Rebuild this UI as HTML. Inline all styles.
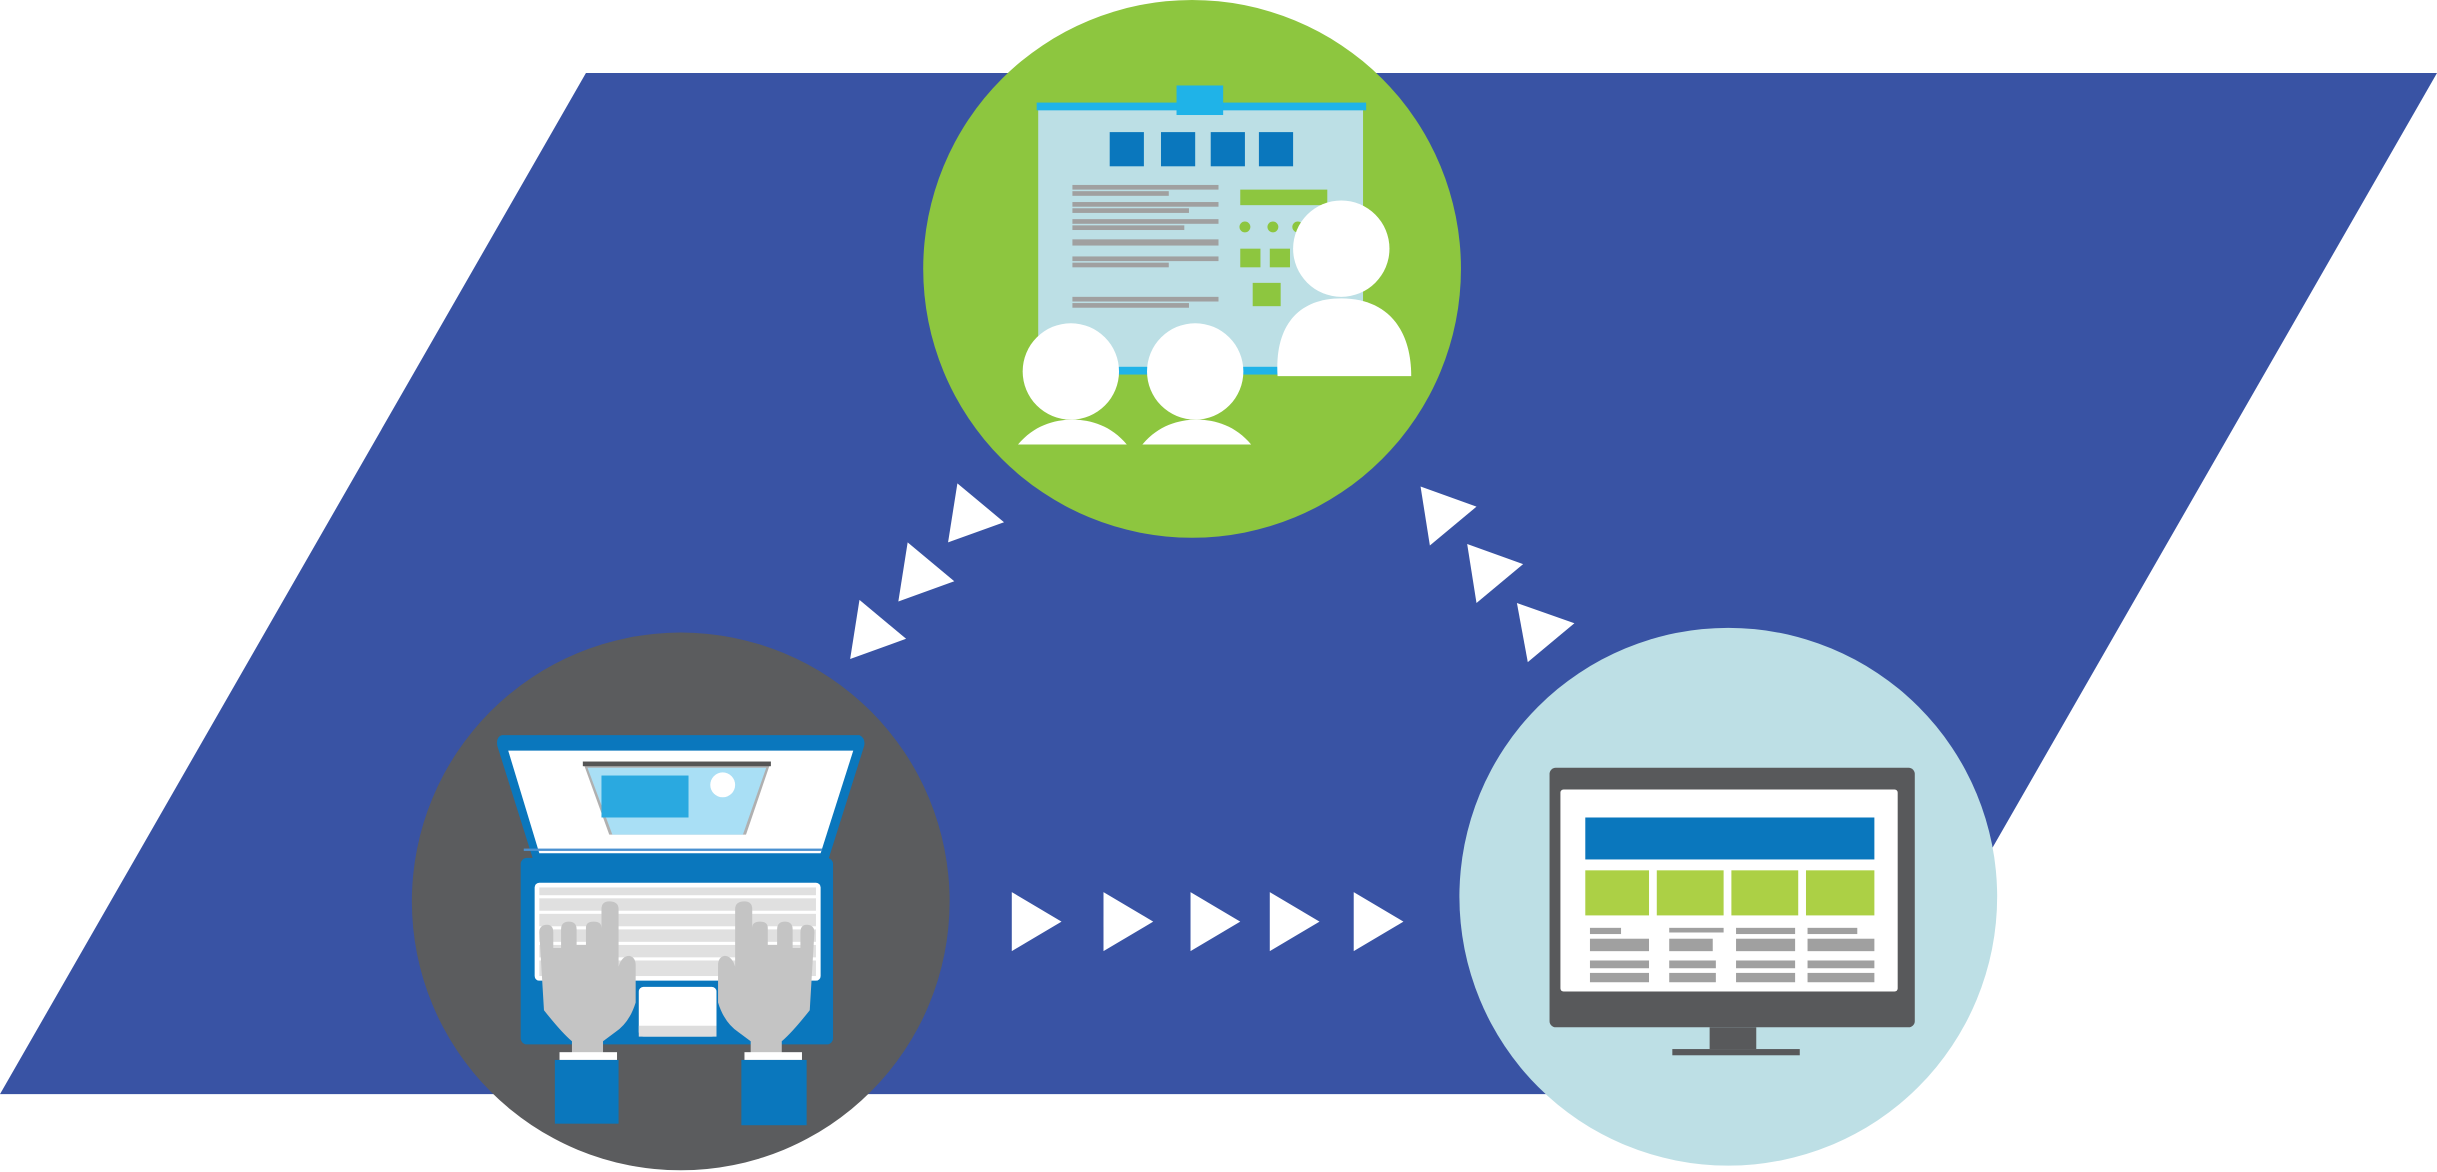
<!DOCTYPE html>
<html><head><meta charset="utf-8"><style>html,body{margin:0;padding:0;background:#fff}svg{display:block}</style></head>
<body>
<svg width="2437" height="1172" viewBox="0 0 1568 754.1" preserveAspectRatio="none" xmlns="http://www.w3.org/2000/svg">
<polygon points="377,47 1568,47 1191,704 0,704" fill="#3953a4"/>
<g fill="#fff">
<polygon points="616,311 646,336 610,349"/>
<polygon points="584,349 614,374 578,387"/>
<polygon points="553,386 583,411 547,424"/>
<polygon points="914,313 950,326 920,351"/>
<polygon points="944,350 980,363 950,388"/>
<polygon points="976,388 1013,401 983,426"/>
<polygon points="651,574 683,593 651,612"/>
<polygon points="710,574 742,593 710,612"/>
<polygon points="766,574 798,593 766,612"/>
<polygon points="817,574 849,593 817,612"/>
<polygon points="871,574 903,593 871,612"/>
</g>
<circle cx="767" cy="173" r="173" fill="#8dc63f"/>
<rect x="668" y="68" width="209" height="172" fill="#bcdfe5"/>
<rect x="667" y="66" width="212" height="5" fill="#1fb3e8"/>
<rect x="757" y="55" width="30" height="19" fill="#1fb3e8"/>
<rect x="667" y="236" width="212" height="5" fill="#1fb3e8"/>
<g fill="#0a77bd"><rect x="714" y="85" width="22" height="22"/><rect x="747" y="85" width="22" height="22"/><rect x="779" y="85" width="22" height="22"/><rect x="810" y="85" width="22" height="22"/></g>
<g fill="#a0a0a0">
<rect x="690" y="119" width="94" height="3"/><rect x="690" y="123" width="62" height="3"/>
<rect x="690" y="130" width="94" height="3"/><rect x="690" y="134" width="75" height="3"/>
<rect x="690" y="141" width="94" height="3"/><rect x="690" y="145" width="72" height="3"/>
<rect x="690" y="154" width="94" height="4"/>
<rect x="690" y="165" width="94" height="3"/><rect x="690" y="169" width="62" height="3"/>
<rect x="690" y="191" width="94" height="3"/><rect x="690" y="195" width="75" height="3"/>
</g>
<g fill="#8dc63f"><rect x="798" y="122" width="56" height="10"/>
<circle cx="801" cy="146" r="3.5"/><circle cx="819" cy="146" r="3.5"/><circle cx="835" cy="146" r="3.5"/>
<rect x="798" y="160" width="13" height="12"/><rect x="817" y="160" width="13" height="12"/><rect x="806" y="182" width="18" height="15"/></g>
<g fill="#fff">
<circle cx="863" cy="160" r="31"/>
<path d="M822,242 C820,210 835,192 863,192 C891,192 908,210 908,242 Z"/>
<circle cx="689" cy="239" r="31"/>
<path d="M655,286 C665,274 678,270 690,270 C702,270 715,274 725,286 Z"/>
<circle cx="769" cy="239" r="31"/>
<path d="M735,286 C745,274 758,270 770,270 C782,270 795,274 805,286 Z"/>
</g>
<circle cx="438" cy="580" r="173" fill="#5b5c5e"/>
<path d="M323,473 L553,473 Q557,475 556,480 L533,553 L343,553 L320,480 Q319,474 323,473 Z" fill="#0a77bd"/>
<polygon points="327,483 549,483 528,549 347,549" fill="#fff"/>
<rect x="337" y="546" width="192" height="1.5" fill="#4a90d0"/>
<polygon points="375,490 496,490 480,537 392,537" fill="#b0b0b0"/>
<polygon points="378,494 493,494 478,537 394,537" fill="#a9dff5"/>
<rect x="375" y="490" width="121" height="3" fill="#555"/>
<rect x="387" y="499" width="56" height="27" fill="#2aa9e0"/>
<circle cx="465" cy="505" r="8" fill="#fff"/>
<rect x="335" y="552" width="201" height="120" rx="4" fill="#0a77bd"/>
<rect x="344" y="568" width="184" height="63" rx="3" fill="#fff"/>
<g fill="#e0e0e0">
<rect x="347" y="571" width="178" height="5"/><rect x="347" y="578" width="178" height="8"/>
<rect x="347" y="588" width="178" height="8"/><rect x="347" y="598" width="178" height="8"/>
<rect x="347" y="608" width="178" height="8"/><rect x="347" y="618" width="178" height="10"/>
</g>
<rect x="411" y="635" width="50" height="32" rx="3" fill="#fff"/>
<rect x="411" y="660" width="50" height="7" fill="#ddd"/>
<g fill="#c4c4c4">
<path d="M347,600 Q347,595 352,595 Q356,595 356,600 L356,610 L361,610 L361,598 Q361,593 366,593 Q371,593 371,598 L371,608 L377,608 L377,597 Q377,593 382,593 Q387,593 387,597 L387,585 Q387,580 392,580 Q398,580 398,585 L398,622 Q400,615 405,615 Q409,616 409,621 L409,645 Q405,658 396,664 L388,670 L388,678 L368,678 L368,670 Q361,664 350,650 Z"/>
<path d="M524,600 Q524,595 519,595 Q515,595 515,600 L515,610 L510,610 L510,598 Q510,593 505,593 Q500,593 500,598 L500,608 L494,608 L494,597 Q494,593 489,593 Q484,593 484,597 L484,585 Q484,580 479,580 Q473,580 473,585 L473,622 Q471,615 466,615 Q462,616 462,621 L462,645 Q466,658 475,664 L483,670 L483,678 L503,678 L503,670 Q510,664 521,650 Z"/>
</g>
<rect x="360" y="677" width="37" height="5" fill="#fff"/>
<rect x="357" y="682" width="41" height="41" fill="#0a77bd"/>
<rect x="479" y="677" width="37" height="5" fill="#fff"/>
<rect x="477" y="682" width="42" height="42" fill="#0a77bd"/>
<circle cx="1112" cy="577" r="173" fill="#bddfe5"/>
<rect x="997" y="494" width="235" height="167" rx="4" fill="#58595b"/>
<rect x="1004" y="508" width="217" height="130" rx="2" fill="#fff"/>
<rect x="1020" y="526" width="186" height="27" fill="#0a77bd"/>
<g fill="#acd045"><rect x="1020" y="560" width="41" height="29"/><rect x="1066" y="560" width="43" height="29"/><rect x="1114" y="560" width="43" height="29"/><rect x="1162" y="560" width="44" height="29"/></g>
<g fill="#a0a0a0">
<rect x="1023" y="597" width="20" height="4"/><rect x="1074" y="597" width="35" height="3"/><rect x="1117" y="597" width="38" height="4"/><rect x="1163" y="597" width="32" height="4"/>
<rect x="1023" y="604" width="38" height="8"/><rect x="1074" y="604" width="28" height="8"/><rect x="1117" y="604" width="38" height="8"/><rect x="1163" y="604" width="43" height="8"/>
<rect x="1023" y="618" width="38" height="5"/><rect x="1074" y="618" width="30" height="5"/><rect x="1117" y="618" width="38" height="5"/><rect x="1163" y="618" width="43" height="5"/>
<rect x="1023" y="626" width="38" height="6"/><rect x="1074" y="626" width="30" height="6"/><rect x="1117" y="626" width="38" height="6"/><rect x="1163" y="626" width="43" height="6"/>
</g>
<rect x="1100" y="661" width="30" height="14" fill="#58595b"/>
<rect x="1076" y="675" width="82" height="4" fill="#58595b"/>
</svg>
</body></html>
